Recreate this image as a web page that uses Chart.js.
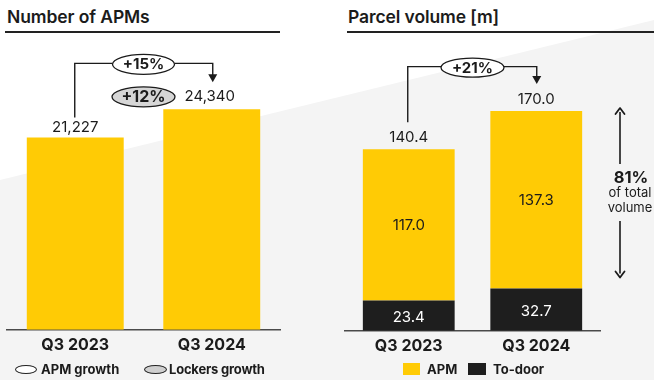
<!DOCTYPE html>
<html><head><meta charset="utf-8">
<script src="https://cdn.jsdelivr.net/npm/chart.js@4"></script>
<style>
html,body{margin:0;padding:0;}
body{width:654px;height:380px;position:relative;overflow:hidden;background:#fff;font-family:Inter,"Noto Sans",sans-serif;color:#1b1b1b;}
#bg{position:absolute;left:0;top:0;width:654px;height:380px;background:#f4f4f4;clip-path:polygon(0 180px,654px 20px,654px 380px,0 380px);}
.title{position:absolute;top:7px;font-size:17.5px;font-weight:600;line-height:20px;white-space:nowrap;letter-spacing:-0.1px;}
.rule{position:absolute;top:31px;height:2px;background:#222;}
canvas{position:absolute;top:0;}
.legend{position:absolute;top:361px;height:16px;font-size:13px;font-weight:700;line-height:16px;white-space:nowrap;}
.legend span{position:absolute;top:0;}
.sym{position:absolute;box-sizing:border-box;}
</style></head>
<body>
<div id="bg"></div>
<div class="title" style="left:7px">Number of APMs</div>
<div class="rule" style="left:5px;width:275px"></div>
<div class="title" style="left:348px">Parcel volume [m]</div>
<div class="rule" style="left:347px;width:307px"></div>
<canvas id="left" width="300" height="380" style="left:0"></canvas>
<canvas id="right" width="324" height="380" style="left:330px"></canvas>
<div class="legend" style="left:0;width:330px">
  <div class="sym" style="left:15px;top:4px;width:22px;height:9px;border:1.3px solid #222;border-radius:50%;background:#fff"></div>
  <span style="left:41px">APM growth</span>
  <div class="sym" style="left:144px;top:4px;width:23px;height:9px;border:1.3px solid #222;border-radius:50%;background:#cfcfcf"></div>
  <span style="left:169px;letter-spacing:-0.2px">Lockers growth</span>
</div>
<div class="legend" style="left:330px;width:324px">
  <div class="sym" style="left:73px;top:2px;width:17px;height:12px;background:#FFCB05"></div>
  <span style="left:97px">APM</span>
  <div class="sym" style="left:138px;top:2px;width:18px;height:12px;background:#1e1e1e"></div>
  <span style="left:163px">To-door</span>
</div>
<script>
const categories = ['Q3 2023', 'Q3 2024'];
const apmCount = [21227, 24340];
const parcelApm = [117.0, 137.3];
const parcelToDoor = [23.4, 32.7];
const parcelTotal = [140.4, 170.0];
const apmGrowthLabel = '+15%';
const lockersGrowthLabel = '+12%';
const parcelGrowthLabel = '+21%';
const apmShareLabel = '81%';
const apmShareText = ['of total', 'volume'];

const YELLOW = '#FFCB05', DARK = '#1e1e1e', INK = '#1b1b1b';
const FONT = 'Inter, "Noto Sans", sans-serif';

function fmtInt(v){ return v.toLocaleString('en-US'); }
function fmt1(v){ return v.toFixed(1); }

function ellipse(ctx, cx, cy, rx, ry, fill){
  ctx.beginPath(); ctx.ellipse(cx, cy, rx, ry, 0, 0, Math.PI*2);
  ctx.fillStyle = fill; ctx.fill();
  ctx.lineWidth = 1.3; ctx.strokeStyle = INK; ctx.stroke();
}
function arrowHead(ctx, x, tipY, dir){
  ctx.beginPath();
  ctx.moveTo(x, tipY);
  ctx.lineTo(x-4.5, tipY - dir*8);
  ctx.lineTo(x+4.5, tipY - dir*8);
  ctx.closePath(); ctx.fillStyle = INK; ctx.fill();
}
function bracket(ctx, x0, y0Bottom, x1, yTop, tipY, cx, rx, ry, label){
  ctx.save();
  ctx.strokeStyle = INK; ctx.lineWidth = 1.4;
  ctx.beginPath();
  ctx.moveTo(x0, y0Bottom); ctx.lineTo(x0, yTop); ctx.lineTo(cx - rx, yTop);
  ctx.moveTo(cx + rx, yTop); ctx.lineTo(x1, yTop); ctx.lineTo(x1, tipY - 6);
  ctx.stroke();
  arrowHead(ctx, x1, tipY, 1);
  ellipse(ctx, cx, yTop + 1, rx, ry, '#fff');
  ctx.fillStyle = INK; ctx.font = '700 15px ' + FONT;
  ctx.textAlign = 'center'; ctx.textBaseline = 'middle';
  ctx.fillText(label, cx, yTop + 1.5);
  ctx.restore();
}

const leftAnno = {
  id: 'leftAnno',
  afterDatasetsDraw(chart){
    const ctx = chart.ctx;
    const els = chart.getDatasetMeta(0).data;
    const b0 = els[0], b1 = els[1];
    ctx.save();
    ctx.fillStyle = INK; ctx.font = '400 15px ' + FONT;
    ctx.textAlign = 'center'; ctx.textBaseline = 'middle';
    ctx.fillText(fmtInt(apmCount[0]), b0.x, b0.y - 10);
    ctx.fillText(fmtInt(apmCount[1]), b1.x - 2, b1.y - 12.5);
    const cx = (b0.x + b1.x) / 2;
    bracket(ctx, b0.x - 0.5, b0.y - 20, b1.x + 1, b1.y - 46, b1.y - 27, cx, 31, 10, apmGrowthLabel);
    ellipse(ctx, cx, b1.y - 12.5, 31.5, 10, '#d6d6d6');
    ctx.fillStyle = INK; ctx.font = '700 16px ' + FONT;
    ctx.textAlign = 'center'; ctx.textBaseline = 'middle';
    ctx.fillText(lockersGrowthLabel, cx, b1.y - 12);
    ctx.restore();
  }
};

const rightAnno = {
  id: 'rightAnno',
  afterDatasetsDraw(chart){
    const ctx = chart.ctx;
    const dark = chart.getDatasetMeta(0).data;
    const yel = chart.getDatasetMeta(1).data;
    ctx.save();
    ctx.textAlign = 'center'; ctx.textBaseline = 'middle';
    ctx.font = '400 15px ' + FONT;
    for (let i = 0; i < 2; i++){
      ctx.fillStyle = INK;
      ctx.fillText(fmt1(parcelApm[i]), yel[i].x, (yel[i].y + yel[i].base) / 2 + 1);
      ctx.fillText(fmt1(parcelTotal[i]), yel[i].x, yel[i].y - 11.5);
      ctx.fillStyle = '#fff';
      ctx.fillText(fmt1(parcelToDoor[i]), dark[i].x, (dark[i].y + dark[i].base) / 2 + 1.5);
    }
    const b0 = yel[0], b1 = yel[1];
    const cx = (b0.x + b1.x) / 2;
    bracket(ctx, b0.x - 1, b0.y - 27, b1.x + 0.5, b1.y - 44.5, b1.y - 27, cx, 31.5, 9.5, parcelGrowthLabel);

    // double arrow: share of APM in total volume
    const ax = 290, top = b1.y - 3, bot = yel[1].base - 11;
    ctx.strokeStyle = INK; ctx.lineWidth = 1.6;
    ctx.beginPath();
    ctx.moveTo(ax, top + 4); ctx.lineTo(ax, 164);
    ctx.moveTo(ax, 221); ctx.lineTo(ax, bot - 4);
    ctx.stroke();
    ctx.lineWidth = 1.8; ctx.lineCap = 'round'; ctx.lineJoin = 'round';
    ctx.beginPath();
    ctx.moveTo(ax - 4.5, top + 6); ctx.lineTo(ax, top); ctx.lineTo(ax + 4.5, top + 6);
    ctx.moveTo(ax - 4.5, bot - 6); ctx.lineTo(ax, bot); ctx.lineTo(ax + 4.5, bot - 6);
    ctx.stroke();
    ctx.fillStyle = INK;
    ctx.font = '700 16.5px ' + FONT;
    ctx.fillText(apmShareLabel, 301, 178.5);
    ctx.font = '400 13px ' + FONT;
    ctx.fillText(apmShareText[0], 300, 193.5);
    ctx.fillText(apmShareText[1], 300, 208.5);
    ctx.restore();
  }
};

const xScaleBase = {
  grid: { display: false, drawTicks: false },
  border: { display: true, color: '#4a4a4a', width: 1.5 },
  ticks: { color: INK, font: { family: FONT, weight: '700', size: 16 }, padding: 6, maxRotation: 0 }
};

new Chart(document.getElementById('left'), {
  type: 'bar',
  data: { labels: categories, datasets: [{ label: 'APMs', data: apmCount, backgroundColor: YELLOW,
    barPercentage: 0.71, categoryPercentage: 1 }] },
  options: {
    responsive: false, animation: false, devicePixelRatio: 1,
    layout: { padding: { left: 7, right: 20, top: 40, bottom: 19 } },
    plugins: { legend: { display: false }, tooltip: { enabled: false } },
    scales: {
      x: xScaleBase,
      y: { display: false, min: 0, max: 32000 }
    }
  },
  plugins: [leftAnno]
});

new Chart(document.getElementById('right'), {
  type: 'bar',
  data: { labels: categories, datasets: [
    { label: 'To-door', data: parcelToDoor, backgroundColor: DARK, barPercentage: 0.72, categoryPercentage: 1 },
    { label: 'APM', data: parcelApm, backgroundColor: YELLOW, barPercentage: 0.72, categoryPercentage: 1 }
  ] },
  options: {
    responsive: false, animation: false, devicePixelRatio: 1,
    layout: { padding: { left: 15, right: 54, top: 40, bottom: 18 } },
    plugins: { legend: { display: false }, tooltip: { enabled: false } },
    scales: {
      x: Object.assign({}, xScaleBase, { stacked: true }),
      y: { display: false, stacked: true, min: 0, max: 225 }
    }
  },
  plugins: [rightAnno]
});
</script>
</body></html>
